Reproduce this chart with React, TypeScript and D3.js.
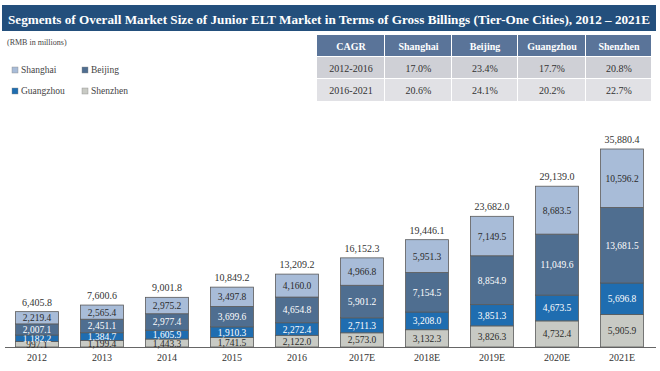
import * as d3 from "d3";

const years = ["2012", "2013", "2014", "2015", "2016", "2017E", "2018E", "2019E", "2020E", "2021E"];
const cities = ["Shenzhen", "Guangzhou", "Beijing", "Shanghai"];
const shanghai = [2219.4, 2565.4, 2975.2, 3497.8, 4160.0, 4966.8, 5951.3, 7149.5, 8683.5, 10596.2];
const beijing = [2007.1, 2451.1, 2977.4, 3699.6, 4654.8, 5901.2, 7154.5, 8854.9, 11049.6, 13681.5];
const guangzhou = [1182.2, 1384.7, 1605.9, 1910.3, 2272.4, 2711.3, 3208.0, 3851.3, 4673.5, 5696.8];
const shenzhen = [997.1, 1199.4, 1443.3, 1741.5, 2122.0, 2573.0, 3132.3, 3826.3, 4732.4, 5905.9];
const totals = [6405.8, 7600.6, 9001.8, 10849.2, 13209.2, 16152.3, 19446.1, 23682.0, 29139.0, 35880.4];

const cagrHeader = ["CAGR", "Shanghai", "Beijing", "Guangzhou", "Shenzhen"];
const cagrRows = [
  ["2012-2016", "17.0%", "23.4%", "17.7%", "20.8%"],
  ["2016-2021", "20.6%", "24.1%", "20.2%", "22.7%"],
];

const colors: Record<string, string> = {
  Shanghai: "#a8bcd8",
  Beijing: "#4f6e90",
  Guangzhou: "#1f6db0",
  Shenzhen: "#c8cac4",
};
const labelColor: Record<string, string> = {
  Shanghai: "#2a2a2a",
  Beijing: "#ffffff",
  Guangzhou: "#ffffff",
  Shenzhen: "#2a2a2a",
};

const fmt = d3.format(",.1f");
const font = "'Liberation Serif', 'Times New Roman', serif";

export default function App() {
  const table = years.map((y, i) => ({
    year: y,
    Shanghai: shanghai[i],
    Beijing: beijing[i],
    Guangzhou: guangzhou[i],
    Shenzhen: shenzhen[i],
  }));
  const series = d3.stack<any>().keys(cities)(table);

  const x = d3.scaleBand().domain(years).range([4.5, 654.5]).paddingInner(0.34).paddingOuter(0.17);
  const y = d3.scaleLinear().domain([0, 35880.4]).range([347, 149]);
  const bw = x.bandwidth();

  const colX = [317, 385, 452, 518, 586, 652];
  const rowY = [35, 57, 79, 102];
  const rowFill = ["#5a7499", "#cfd0d6", "#e1e1e5"];

  const legend = [
    { name: "Shanghai", x: 12, y: 73 },
    { name: "Beijing", x: 82, y: 73 },
    { name: "Guangzhou", x: 12, y: 94 },
    { name: "Shenzhen", x: 82, y: 94 },
  ];

  return (
    <svg width={660} height={371} style={{ position: "absolute", left: 0, top: 0, background: "#fff" }} fontFamily={font}>
      <rect x={2} y={5} width={654} height={26} fill="#234f7c" />
      <text x={329} y={23.5} textAnchor="middle" fill="#fff" fontWeight="bold" fontSize={13} textLength={642} lengthAdjust="spacingAndGlyphs">
        Segments of Overall Market Size of Junior ELT Market in Terms of Gross Billings (Tier-One Cities), 2012 – 2021E
      </text>

      <text x={7} y={45} fontSize={8} fill="#444">(RMB in millions)</text>
      {legend.map((l) => (
        <g key={l.name}>
          <rect x={l.x} y={l.y - 6} width={6} height={6} fill={colors[l.name]} stroke="#888" strokeWidth={0.4} />
          <text x={l.x + 9} y={l.y} fontSize={9.5} fill="#444">{l.name}</text>
        </g>
      ))}

      {[cagrHeader, ...cagrRows].map((row, r) =>
        row.map((cell, c) => (
          <g key={r + "-" + c}>
            <rect x={colX[c]} y={rowY[r]} width={colX[c + 1] - colX[c] - 1} height={rowY[r + 1] - rowY[r] - 1} fill={rowFill[r]} />
            <text
              x={(colX[c] + colX[c + 1]) / 2}
              y={(rowY[r] + rowY[r + 1]) / 2 + 3.5}
              textAnchor="middle"
              fontSize={10}
              fontWeight={r === 0 ? "bold" : "normal"}
              fill={r === 0 ? "#fff" : "#333"}
            >
              {cell}
            </text>
          </g>
        ))
      )}

      <line x1={5} x2={656} y1={347.5} y2={347.5} stroke="#666" strokeWidth={1} />

      {series.map((s) => (
        <g key={s.key}>
          {s.map((d, i) => (
            <g key={i}>
              <rect
                x={x(years[i])!}
                y={y(d[1])}
                width={bw}
                height={y(d[0]) - y(d[1])}
                fill={colors[s.key]}
                stroke="#5a5a5a"
                strokeWidth={0.8}
              />
              <text
                x={x(years[i])! + bw / 2}
                y={(y(d[0]) + y(d[1])) / 2 + 3.5}
                textAnchor="middle"
                fontSize={9.5}
                fill={labelColor[s.key]}
              >
                {fmt(d[1] - d[0])}
              </text>
            </g>
          ))}
        </g>
      ))}

      {years.map((yr, i) => (
        <g key={yr}>
          <text x={x(yr)! + bw / 2} y={y(totals[i]) - 6} textAnchor="middle" fontSize={10} fill="#333">
            {fmt(totals[i])}
          </text>
          <text x={x(yr)! + bw / 2} y={361} textAnchor="middle" fontSize={10} fill="#333">
            {yr}
          </text>
        </g>
      ))}
    </svg>
  );
}
